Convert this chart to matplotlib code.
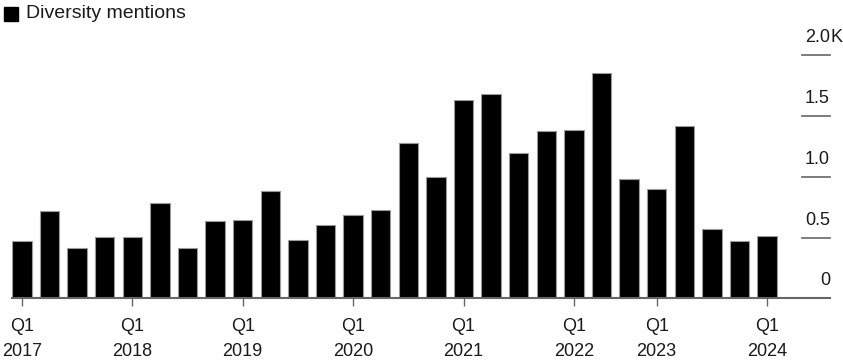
import matplotlib.pyplot as plt
from matplotlib.patches import Rectangle
from matplotlib.transforms import blended_transform_factory, offset_copy

plt.rcParams['font.family'] = ['Liberation Sans', 'DejaVu Sans']

# quarterly mention counts (thousands)
mentions = [0.468, 0.716, 0.410, 0.504, 0.504, 0.782, 0.410, 0.636, 0.647, 0.881,
            0.479, 0.603, 0.686, 0.727, 1.281, 1.000, 1.633, 1.680, 1.195, 1.380,
            1.388, 1.854, 0.986, 0.901, 1.421, 0.573, 0.474, 0.512]
tick_idx = [0, 4, 8, 12, 16, 20, 23, 27]
tick_labels = ['Q1\n2017', 'Q1\n2018', 'Q1\n2019', 'Q1\n2020',
               'Q1\n2021', 'Q1\n2022', 'Q1\n2023', 'Q1\n2024']
y_ticks = [0, 0.5, 1.0, 1.5, 2.0]
y_labels = ['0', '0.5', '1.0', '1.5', '2.0']

fig = plt.figure(figsize=(8.43, 3.6), dpi=100)
ax = fig.add_axes([12 / 843, 61.7 / 360, 818 / 843, 243 / 360])

x = list(range(len(mentions)))
ax.bar(x, mentions, width=0.7, color='black', edgecolor='#9a9a9a', linewidth=0.8, zorder=3)

ax.set_xlim(-0.36, 29.28)
ax.set_ylim(0, 2.0)

for s in ['top', 'right', 'left']:
    ax.spines[s].set_visible(False)
ax.spines['bottom'].set_color('#666666')
ax.spines['bottom'].set_linewidth(1.5)
ax.spines['bottom'].set_zorder(4)

ax.set_xticks(tick_idx)
ax.set_xticklabels(tick_labels, fontsize=13, color='#1a1a1a', linespacing=1.65)
ax.tick_params(axis='x', length=6, width=1, color='#666666', pad=8)
ax.set_yticks([])

# short gridline stubs under the right-hand labels
trans = blended_transform_factory(ax.transAxes, ax.transData)
for v, lab in zip(y_ticks, y_labels):
    if v > 0:
        ax.plot([790 / 818, 1.0], [v, v], color='#666666', lw=1.2, transform=trans, clip_on=False)
    lab_trans = offset_copy(trans, fig=fig, x=0, y=6.5, units='points')
    ax.text(1.0, v, lab, ha='right', va='bottom', fontsize=13, color='#1a1a1a',
            transform=lab_trans)
    if v == y_ticks[-1]:
        ax.text(1.0, v, 'K', ha='left', va='bottom', fontsize=13, color='#1a1a1a',
                transform=lab_trans)

# legend
fig.patches.append(Rectangle((4 / 843, 1 - 21 / 360), 14 / 843, 14 / 360,
                             transform=fig.transFigure, color='black'))
fig.text(26 / 843, 1 - 14 / 360, 'Diversity mentions', fontsize=14, color='#1a1a1a',
         va='center', ha='left')

fig.savefig('out.png', dpi=100)
